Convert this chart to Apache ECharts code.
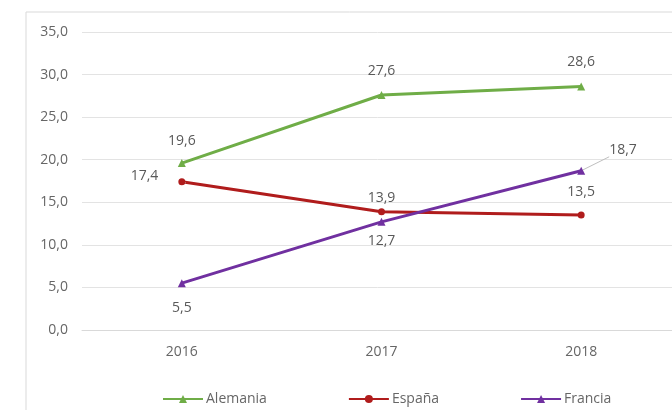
<!DOCTYPE html>
<html>
<head>
<meta charset="utf-8">
<script src="https://cdn.jsdelivr.net/npm/echarts@6/dist/echarts.min.js"></script>
<style>html,body{margin:0;padding:0;background:#fff;}#c{width:672px;height:410px;}</style>
</head>
<body>
<div id="c"></div>
<script>
const years = ['2016', '2017', '2018'];
const alemania = [19.6, 27.6, 28.6];
const espana = [17.4, 13.9, 13.5];
const francia = [5.5, 12.7, 18.7];
const yTicks = { min: 0, max: 35, interval: 5 };

const fmt = v => v.toFixed(1).replace('.', ',');
const FONT = 'Open Sans';
const FS = 14;
const lblBase = { show: true, color: '#595959', fontSize: FS, fontFamily: FONT, formatter: p => fmt(p.value) };

// per-point label placement (style only)
function items(values, labelCfg, lineCfg) {
  return values.map((v, i) => {
    const it = { value: v };
    if (labelCfg[i]) it.label = labelCfg[i];
    if (lineCfg && lineCfg[i]) it.labelLine = lineCfg[i];
    return it;
  });
}

const chart = echarts.init(document.getElementById('c'));
chart.setOption({
  animation: false,
  backgroundColor: '#fff',
  graphic: [{
    type: 'rect', shape: { x: 26, y: 12, width: 700, height: 450 },
    style: { fill: 'none', stroke: '#d9d9d9', lineWidth: 1 }, silent: true, z: -1
  }],
  grid: { left: 82, top: 32, width: 599, height: 298, outerBoundsMode: 'none' },
  legend: {
    bottom: 4, left: 162, padding: 0, itemGap: 81, itemWidth: 40, itemHeight: 10,
    textStyle: { color: '#666666', fontSize: FS, fontFamily: FONT, padding: [0, 0, 0, -2] },
    data: ['Alemania', 'España', 'Francia']
  },
  xAxis: {
    type: 'category', data: years, boundaryGap: true,
    axisLine: { lineStyle: { color: '#d9d9d9' } },
    axisTick: { show: false },
    axisLabel: { color: '#666666', fontSize: FS, fontFamily: FONT, margin: 15 }
  },
  yAxis: {
    type: 'value', min: yTicks.min, max: yTicks.max, interval: yTicks.interval,
    axisLine: { show: false }, axisTick: { show: false },
    splitLine: { lineStyle: { color: '#e3e3e3' } },
    axisLabel: { color: '#666666', fontSize: FS, fontFamily: FONT, margin: 14, formatter: v => fmt(v) }
  },
  series: [
    {
      name: 'Alemania', type: 'line',
      data: items(alemania, [{ distance: 11 }, { distance: 13 }, { distance: 13 }]),
      symbol: 'triangle', symbolSize: 8,
      itemStyle: { color: '#6fad47' }, lineStyle: { width: 3, color: '#6fad47' },
      label: Object.assign({}, lblBase, { position: 'top' })
    },
    {
      name: 'España', type: 'line',
      data: items(espana,
        [{ position: 'left', distance: 20, offset: [0, -6] }, { distance: 3 }, { distance: 13 }],
        [{ show: true, length2: 0, lineStyle: { color: '#bfbfbf', width: 1 } }]),
      symbol: 'circle', symbolSize: 7,
      itemStyle: { color: '#b01c1c' }, lineStyle: { width: 3, color: '#b01c1c' },
      label: Object.assign({}, lblBase, { position: 'top' })
    },
    {
      name: 'Francia', type: 'line',
      data: items(francia,
        [{ distance: 14 }, { distance: 8 }, { position: 'right', distance: 24, offset: [0, -21] }],
        [null, null, { show: true, length2: 0, lineStyle: { color: '#bfbfbf', width: 1 } }]),
      symbol: 'triangle', symbolSize: 8,
      itemStyle: { color: '#7030a0' }, lineStyle: { width: 3, color: '#7030a0' },
      label: Object.assign({}, lblBase, { position: 'bottom' })
    }
  ]
});
</script>
</body>
</html>
